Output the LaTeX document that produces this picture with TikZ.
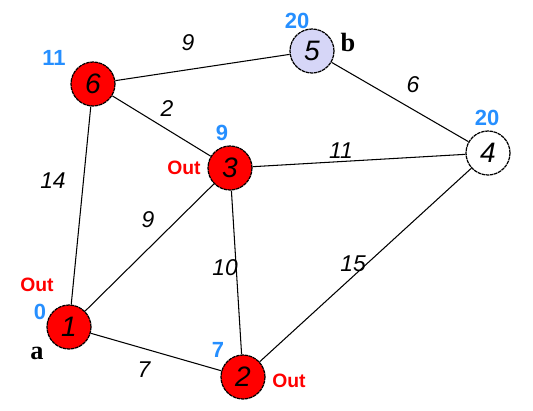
\documentclass[tikz,border=0pt]{standalone}
\usepackage{fontspec}
\setmainfont{Liberation Serif}
\setsansfont{Liberation Sans}
\usetikzlibrary{positioning}
\definecolor{NodeRed}{rgb}{1, 0, 0}
\definecolor{LightLilac}{rgb}{0.84, 0.84, 0.97}
\definecolor{DistBlue}{rgb}{0.15, 0.56, 1}

\begin{document}
\begin{tikzpicture}[
    x=0.02cm, y=-0.02cm,
    font=\sffamily,
    vtx/.style={circle, draw, line width=0.7pt, dash pattern=on 2pt off 0.4pt,
        minimum size=0.88cm, inner sep=0pt, font=\sffamily\itshape\fontsize{16}{16}\selectfont},
    done/.style={vtx, fill=NodeRed},
    link/.style={line width=0.6pt, black},
    wt/.style={font=\sffamily\itshape\fontsize{13}{13}\selectfont, inner sep=0pt},
    dist/.style={text=DistBlue, font=\sffamily\bfseries\fontsize{12.5}{12.5}\selectfont, inner sep=0pt},
    outlbl/.style={text=NodeRed, font=\sffamily\bfseries\fontsize{11}{11}\selectfont, inner sep=0pt},
    tag/.style={font=\rmfamily\bfseries\fontsize{15}{15}\selectfont, inner sep=0pt},
]
\useasboundingbox (0,0) rectangle (533,410);

% --- vertices ---
\node[done] (v1) at (69,327) {1};
\node[done] (v2) at (243,377) {2};
\node[done] (v3) at (230,168) {3};
\node[vtx, fill=white] (v4) at (488,153) {4};
\node[vtx, fill=LightLilac] (v5) at (312,51) {5};
\node[done] (v6) at (93,84) {6};

% --- edges ---
\draw[link] (v6) -- (v5);
\draw[link] (v6) -- (v3);
\draw[link] (v6) -- (v1);
\draw[link] (v1) -- (v3);
\draw[link] (v3) -- (v4);
\draw[link] (v5) -- (v4);
\draw[link] (v3) -- (v2);
\draw[link] (v2) -- (v4);
\draw[link] (v1) -- (v2);

% --- weights ---
\node[wt] (w65) at (188,43) {9};
\node[wt] (w63) at (167,109) {2};
\node[wt] (w61) at (53,181) {14};
\node[wt] (w13) at (148,220) {9};
\node[wt] (w34) at (341,151) {11};
\node[wt] (w54) at (413,85) {6};
\node[wt] (w32) at (225,268) {10};
\node[wt] (w24) at (353,264) {15};
\node[wt] (w12) at (144,370) {7};

% --- distances ---
\node[dist] (d1) at (40,312) {0};
\node[dist] (d2) at (218,350) {7};
\node[dist] (d3) at (222,133) {9};
\node[dist] (d4) at (487,118) {20};
\node[dist] (d5) at (297,21) {20};
\node[dist] (d6) at (54,58) {11};

% --- settled marks ---
\node[outlbl] (o1) at (37,285) {Out};
\node[outlbl] (o2) at (289,381) {Out};
\node[outlbl] (o3) at (184,168) {Out};

% --- source / target ---
\node[tag] (ta) at (37,353) {a};
\node[tag] (tb) at (348,42) {b};

\end{tikzpicture}
\end{document}
